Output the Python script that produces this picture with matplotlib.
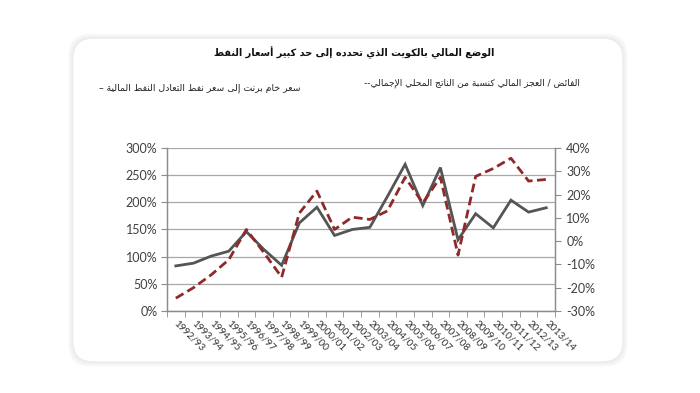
#!/usr/bin/env python3

import numpy as np
import matplotlib
matplotlib.use("Agg")
import matplotlib.pyplot as plt
from matplotlib.patches import FancyBboxPatch
from matplotlib.ticker import FuncFormatter

# data
years = ["1992/93", "1993/94", "1994/95", "1995/96", "1996/97", "1997/98",
         "1998/99", "1999/00", "2000/01", "2001/02", "2002/03", "2003/04",
         "2004/05", "2005/06", "2006/07", "2007/08", "2008/09", "2009/10",
         "2010/11", "2011/12", "2012/13", "2013/14"]
# Brent price / fiscal breakeven oil price (%), left axis
brent_ratio = [83, 88, 101, 110, 146, 113, 84, 162, 191, 139, 150, 154,
               211, 270, 194, 264, 131, 179, 153, 204, 182, 190]
# fiscal surplus / deficit as % of GDP, right axis
fiscal_balance = [-24.5, -20, -14.5, -8, 5, -5, -15.5, 12, 21.5, 5, 10.3, 9.3,
                  13, 27.4, 16.4, 27.4, -6, 27.8, 31.2, 35.6, 25.8, 26.5]

title_text = "الوضع المالي بالكويت الذي تحدده إلى حد كبير أسعار النفط"
legend_balance = "الفائض / العجز المالي كنسبة من الناتج المحلي الإجمالي--"
legend_ratio = "سعر خام برنت إلى سعر نفط التعادل النفط المالية –"

# minimal Arabic shaping (presentation forms B) since matplotlib does no shaping
FORMS = {
    "ء": (0xFE80, 1), "آ": (0xFE81, 2), "أ": (0xFE83, 2), "ؤ": (0xFE85, 2),
    "إ": (0xFE87, 2), "ئ": (0xFE89, 4), "ا": (0xFE8D, 2), "ب": (0xFE8F, 4),
    "ة": (0xFE93, 2), "ت": (0xFE95, 4), "ث": (0xFE99, 4), "ج": (0xFE9D, 4),
    "ح": (0xFEA1, 4), "خ": (0xFEA5, 4), "د": (0xFEA9, 2), "ذ": (0xFEAB, 2),
    "ر": (0xFEAD, 2), "ز": (0xFEAF, 2), "س": (0xFEB1, 4), "ش": (0xFEB5, 4),
    "ص": (0xFEB9, 4), "ض": (0xFEBD, 4), "ط": (0xFEC1, 4), "ظ": (0xFEC5, 4),
    "ع": (0xFEC9, 4), "غ": (0xFECD, 4), "ف": (0xFED1, 4), "ق": (0xFED5, 4),
    "ك": (0xFED9, 4), "ل": (0xFEDD, 4), "م": (0xFEE1, 4), "ن": (0xFEE5, 4),
    "ه": (0xFEE9, 4), "و": (0xFEED, 2), "ى": (0xFEEF, 2), "ي": (0xFEF1, 4),
}
LAM_ALEF = {"آ": 0xFEF5, "أ": 0xFEF7, "إ": 0xFEF9, "ا": 0xFEFB}


def shape(text):
    units = []
    i = 0
    while i < len(text):
        c = text[i]
        if c == "ل" and i + 1 < len(text) and text[i + 1] in LAM_ALEF:
            units.append(("LA", text[i + 1]))
            i += 2
        else:
            units.append(("C", c))
            i += 1

    def joins_next(u):
        return u[0] == "C" and u[1] in FORMS and FORMS[u[1]][1] == 4

    def is_letter(u):
        return u[0] == "LA" or (u[1] in FORMS and FORMS[u[1]][1] > 1)

    out = []
    for k, (kind, c) in enumerate(units):
        prev_j = k > 0 and joins_next(units[k - 1])
        next_j = (k + 1 < len(units) and joins_next((kind, c))
                  and is_letter(units[k + 1]))
        if kind == "LA":
            out.append(chr(LAM_ALEF[c] + (1 if prev_j else 0)))
        elif c in FORMS:
            base, n = FORMS[c]
            if n == 1:
                idx = 0
            elif n == 2:
                idx = 1 if prev_j else 0
            else:
                idx = {(False, False): 0, (True, False): 1,
                       (False, True): 2, (True, True): 3}[(prev_j, next_j)]
            out.append(chr(base + idx))
        else:
            out.append(c)
    return "".join(reversed(out))


plt.rcParams["font.family"] = ["Lato", "DejaVu Sans"]

fig = plt.figure(figsize=(7, 3.93), dpi=100)
fig.patch.set_facecolor("white")

# card with soft shadow
for pad, col in [(0.006, "#f7f7f7"), (0.003, "#f0f0f0")]:
    fig.patches.append(FancyBboxPatch(
        (0.104 - pad, 0.079 - pad * 1.8), 0.786 + 2 * pad, 0.824 + 3.6 * pad,
        boxstyle="round,pad=0,rounding_size=0.03", transform=fig.transFigure,
        facecolor=col, edgecolor="none", zorder=0, mutation_aspect=1.78))
fig.patches.append(FancyBboxPatch(
    (0.104, 0.079), 0.786, 0.824,
    boxstyle="round,pad=0,rounding_size=0.03", transform=fig.transFigure,
    facecolor="white", edgecolor="#ebebeb", linewidth=0.8, zorder=0,
    mutation_aspect=1.78))

ax = fig.add_axes([0.2386, 0.2087, 0.5543, 0.4147])
ax2 = ax.twinx()
ax.set_zorder(2)
ax2.set_zorder(3)
ax.patch.set_visible(False)

x = np.arange(len(years))
ax.plot(x, brent_ratio, color="#555555", lw=2, solid_joinstyle="miter")
ax2.plot(x, fiscal_balance, color="#8e2a2a", lw=2, dashes=(3.2, 1.6))

ax.set_xlim(-0.5, len(years) - 0.5)
ax.set_ylim(0, 300)
ax.set_yticks(np.arange(0, 301, 50))
ax.yaxis.set_major_formatter(FuncFormatter(lambda v, p: f"{v:.0f}%"))
ax2.set_ylim(-30, 40)
ax2.set_yticks(np.arange(-30, 41, 10))
ax2.yaxis.set_major_formatter(FuncFormatter(lambda v, p: f"{v:.0f}%"))

ax.grid(axis="y", color="#a8a8a8", lw=0.9)
ax.set_axisbelow(True)

ax.set_xticks(x)
ax.set_xticklabels(years, rotation=-45, rotation_mode="anchor",
                   ha="left", va="center", fontsize=7.2, color="#333333")
ax.set_xticks(np.arange(-0.5, len(years)), minor=True)
ax.tick_params(axis="x", which="major", length=0, pad=8)
ax.tick_params(axis="x", which="minor", length=4, color="#8c8c8c")
ax.tick_params(axis="y", length=4, color="#8c8c8c", labelsize=9,
               labelcolor="#404040", pad=3)
ax2.tick_params(axis="y", length=4, color="#8c8c8c", labelsize=9,
                labelcolor="#404040", pad=4)

for a in (ax, ax2):
    a.spines["top"].set_visible(False)
    for s in ("left", "right", "bottom"):
        a.spines[s].set_color("#8c8c8c")
        a.spines[s].set_linewidth(0.9)

fig.text(0.506, 0.866, shape(title_text), ha="center", va="center",
         fontsize=7, fontweight="bold", family="DejaVu Sans", color="#111111")
fig.text(0.829, 0.789, shape(legend_balance), ha="right", va="center",
         fontsize=6.6, family="DejaVu Sans", color="#222222")
fig.text(0.429, 0.776, shape(legend_ratio), ha="right", va="center",
         fontsize=6.7, family="DejaVu Sans", color="#222222")

fig.savefig("out.png", dpi=100)
